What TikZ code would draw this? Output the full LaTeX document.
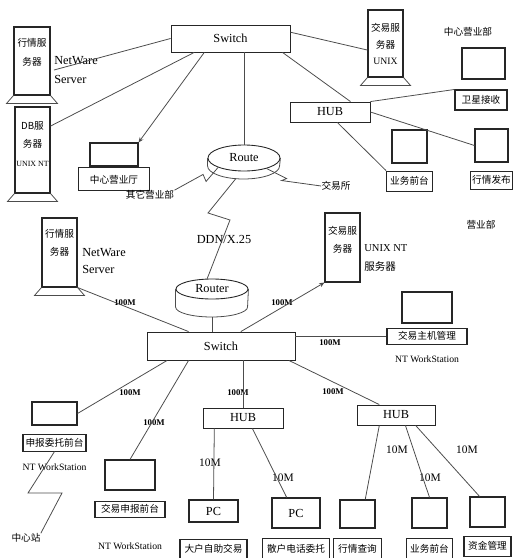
\documentclass[tikz,border=0pt]{standalone}
\usepackage{fontspec}
\setmainfont{Liberation Serif}
\newfontfamily\cjk{Noto Sans CJK SC}
\usetikzlibrary{arrows.meta, positioning, shapes.geometric, calc}

% foot of a server tower
\newcommand{\towerfoot}[1]{\draw[tline] (#1.south west) -- ++(-7,8) -- ($(#1.south east)+(7,8)$) -- (#1.south east);}
% lower rim of a router
\newcommand{\routerrim}[4]{\draw[tline] (#1.west) -- ++(0,#2) arc[start angle=180, end angle=360, x radius=#3, y radius=#4] -- (#1.east);}

\begin{document}
\begin{tikzpicture}[x=0.02cm, y=-0.02cm,
  unit/.style={draw=black!85, line width=0.5pt, inner sep=0pt, font=\fontsize{7}{8}\selectfont},
  mon/.style={draw=black!85, line width=0.6pt, inner sep=0pt, font=\fontsize{7}{8}\selectfont},
  lbl/.style={draw=black!85, line width=0.6pt, inner sep=0pt, font=\cjk\fontsize{5.5}{6}\selectfont},
  tower/.style={draw=black!85, line width=0.6pt, inner sep=0pt},
  ttxt/.style={inner sep=0pt, align=center, font=\cjk\fontsize{5.5}{10.5}\selectfont},
  rtr/.style={draw=black!85, ellipse, line width=0.5pt, inner sep=0pt, font=\fontsize{7}{8}\selectfont},
  note/.style={inner sep=0pt, align=left, font=\fontsize{7}{11}\selectfont},
  zh/.style={inner sep=0pt, font=\cjk\fontsize{5.5}{6}\selectfont},
  spd/.style={inner sep=0pt, font=\bfseries\fontsize{5}{6}\selectfont},
  ten/.style={inner sep=0pt, font=\fontsize{6.5}{7}\selectfont},
  ws/.style={inner sep=0pt, font=\fontsize{5.5}{6}\selectfont},
  tline/.style={draw=black!70, line width=0.45pt},
  >={Stealth[length=3pt, width=2.5pt]}
]
\useasboundingbox (0,0) rectangle (512,558);

% upper site
\node[unit, minimum width=2.38cm, minimum height=0.54cm] (sw1) at (230.5,38.5) {Switch};
\node[tower, minimum width=0.72cm, minimum height=1.36cm] (srvA) at (32,61) {};
\node[ttxt] (srvAt) at (32,52.5) {行情服\\务器};
\node[note, anchor=west] (nwA) at (54,70) {NetWare\\Server};
\node[tower, minimum width=0.70cm, minimum height=1.72cm] (srvB) at (32.5,150) {};
\node[ttxt] (srvBt) at (32.5,144) {DB服\\务器\\{\rmfamily\fontsize{4.5}{10.5}\selectfont UNIX NT}};
\node[tower, minimum width=0.70cm, minimum height=1.34cm] (srvE) at (385.5,43.5) {};
\node[ttxt, font=\cjk\fontsize{5.5}{9.5}\selectfont] (srvEt) at (385.5,44) {交易服\\务器\\{\rmfamily UNIX}};
\node[mon, minimum width=0.96cm, minimum height=0.46cm] (mon1) at (114,154.5) {};
\node[lbl, minimum width=1.42cm, minimum height=0.46cm, below=0.5pt of mon1] (lbl1) {中心营业厅};
\node[rtr, minimum width=1.44cm, minimum height=0.52cm] (rt1) at (244,158) {Route};
\coordinate (rt1b) at ($(rt1.south)+(-8,7)$);
\node[zh] (oth) at (150,195) {其它营业部};
\node[zh] (exch) at (336,186) {交易所};
\node[unit, minimum width=1.6cm, minimum height=0.4cm] (hub0) at (330,112) {HUB};
\node[zh] (site1) at (468,32) {中心营业部};
\node[mon, minimum width=0.86cm, minimum height=0.62cm] (monR1) at (483.5,63.5) {};
\node[lbl, minimum width=1.04cm, minimum height=0.4cm] (lblR1) at (481,100) {卫星接收};
\node[mon, minimum width=0.7cm, minimum height=0.66cm] (monM) at (409.5,146.5) {};
\node[lbl, minimum width=0.92cm, minimum height=0.4cm, below=0.14cm of monM] (lblM) {业务前台};
\node[mon, minimum width=0.66cm, minimum height=0.66cm] (monR2) at (491.5,145.5) {};
\node[lbl, minimum width=0.84cm, minimum height=0.36cm, below=0.16cm of monR2] (lblR2) {行情发布};

% lower site
\node[note] (ddn) at (224,240) {DDN/X.25};
\node[rtr, minimum width=1.44cm, minimum height=0.40cm] (rt2) at (212,289) {Router};
\coordinate (rt2b) at ($(rt2.south)+(0,18)$);
\node[unit, minimum width=2.96cm, minimum height=0.56cm] (sw2) at (221,346) {Switch};
\node[tower, minimum width=0.70cm, minimum height=1.38cm] (srvC) at (59.5,252.5) {};
\node[ttxt] (srvCt) at (59.5,243) {行情服\\务器};
\node[note, anchor=west, font=\fontsize{7}{10.2}\selectfont] (nwC) at (82,261) {NetWare\\Server};
\node[tower, minimum width=0.70cm, minimum height=1.38cm] (srvD) at (342.5,247.5) {};
\node[ttxt] (srvDt) at (342.5,240) {交易服\\务器};
\node[note, anchor=west, font=\fontsize{6}{11}\selectfont] (srvDn) at (364,258) {UNIX NT\\{\cjk 服务器}};
\node[zh] (site2) at (481,225) {营业部};
\node[mon, minimum width=1.0cm, minimum height=0.62cm] (mon3) at (427,307.5) {};
\node[lbl, minimum width=1.6cm, minimum height=0.32cm, below=0.08cm of mon3] (lbl3) {交易主机管理};
\node[ws, below=0.22cm of lbl3] (ws3) {NT WorkStation};
\node[unit, minimum width=1.6cm, minimum height=0.4cm] (hub1) at (243,418) {HUB};
\node[unit, minimum width=1.56cm, minimum height=0.4cm] (hub2) at (396,415) {HUB};
\node[mon, minimum width=0.9cm, minimum height=0.46cm] (mon4) at (54.5,413.5) {};
\node[lbl, minimum width=1.26cm, minimum height=0.34cm, below=0.16cm of mon4] (lbl4) {申报委托前台};
\node[ws, below=0.24cm of lbl4] (ws4) {NT WorkStation};
\node[zh] (relay) at (26,538) {中心站};
\node[mon, minimum width=1.0cm, minimum height=0.6cm] (mon5) at (130,475) {};
\node[lbl, minimum width=1.4cm, minimum height=0.32cm, below=0.2cm of mon5] (lbl5) {交易申报前台};
\node[ws, below=0.5cm of lbl5] (ws5) {NT WorkStation};
\node[mon, minimum width=0.98cm, minimum height=0.44cm] (pc1) at (213.5,511) {PC};
\node[lbl, minimum width=1.34cm, minimum height=0.4cm, below=0.32cm of pc1] (lbl6) {大户自助交易};
\node[mon, minimum width=0.96cm, minimum height=0.6cm] (pc2) at (296,513) {PC};
\node[lbl, minimum width=1.34cm, minimum height=0.42cm, below=0.18cm of pc2] (lbl7) {散户电话委托};
\node[mon, minimum width=0.7cm, minimum height=0.56cm] (mon8) at (357.5,514) {};
\node[lbl, minimum width=0.96cm, minimum height=0.42cm, below=0.18cm of mon8] (lbl8) {行情查询};
\node[mon, minimum width=0.7cm, minimum height=0.6cm] (mon9) at (429.5,513) {};
\node[lbl, minimum width=0.92cm, minimum height=0.42cm, below=0.18cm of mon9] (lbl9) {业务前台};
\node[mon, minimum width=0.7cm, minimum height=0.6cm] (mon10) at (487.5,512) {};
\node[lbl, minimum width=0.94cm, minimum height=0.4cm, below=0.16cm of mon10] (lbl10) {资金管理};

% link speeds
\node[spd] (s1) at (125,303) {100M};
\node[spd] (s2) at (282,303) {100M};
\node[spd] (s3) at (330,343) {100M};
\node[spd] (s4) at (333,392) {100M};
\node[spd] (s5) at (238,393) {100M};
\node[spd] (s6) at (130,393) {100M};
\node[spd] (s7) at (154,423) {100M};
\node[ten] (t1) at (210,463) {10M};
\node[ten] (t2) at (283,478) {10M};
\node[ten] (t3) at (397,450) {10M};
\node[ten] (t4) at (430,478) {10M};
\node[ten] (t5) at (467,450) {10M};

\towerfoot{srvA}
\towerfoot{srvB}
\towerfoot{srvC}
\towerfoot{srvE}
\routerrim{rt1}{8}{0.72cm}{0.26cm}
\routerrim{rt2}{18}{0.72cm}{0.2cm}

\draw[tline] (sw1.west) -- (nwA.west);
\draw[tline] (sw1.201) -- (srvB.53);
\draw[tline, ->] (sw1.208) -- (mon1.north east);
\draw[tline] (rt1.north) -- (rt1.north |- sw1.south);
\draw[tline] (sw1.6) -- (srvE.200);
\draw[tline] (sw1.-15) -- (hub0.27);
\draw[tline] (hub0.north east) -- (lblR1.north west);
\draw[tline] (hub0.east) -- (monR2.west);
\draw[tline] (hub0.-55) -- (lblM.north west);
\draw[tline] (rt1.200) -- ++(-12,14) -- ++(-3,-7) -- (oth.north east);
\draw[tline] (rt1.-25) -- ++(20,10) -- ++(-5,2) -- (exch.west);
\draw[tline] (rt1b) -- (208,213) -- (230,220) -- (rt2.115);
\draw[tline] (rt2b) -- (rt2b |- sw2.north);

\draw[tline] (srvC.south east) -- (sw2.156);
\draw[tline, ->] (sw2.36) -- (srvD.south west);
\draw[tline] (lbl3.west) -- (lbl3.west -| sw2.east);
\draw[tline] (sw2.-12) -- (hub2.148);
\draw[tline] (hub1.north) -- (hub1.north |- sw2.south);
\draw[tline] (sw2.195) -- (mon4.east);
\draw[tline] (sw2.204) -- (mon5.north);
\draw[tline] (lbl4.south) -- (28,493) -- (62,493) -- (relay.north east);
\draw[tline] (hub1.200) -- (pc1.north);
\draw[tline] (hub1.-48) -- (pc2.121);
\draw[tline] (hub2.212) -- (mon8.62);
\draw[tline] (hub2.-48) -- (mon9.north);
\draw[tline] (hub2.-28) -- (mon10.117);
\end{tikzpicture}
\end{document}
